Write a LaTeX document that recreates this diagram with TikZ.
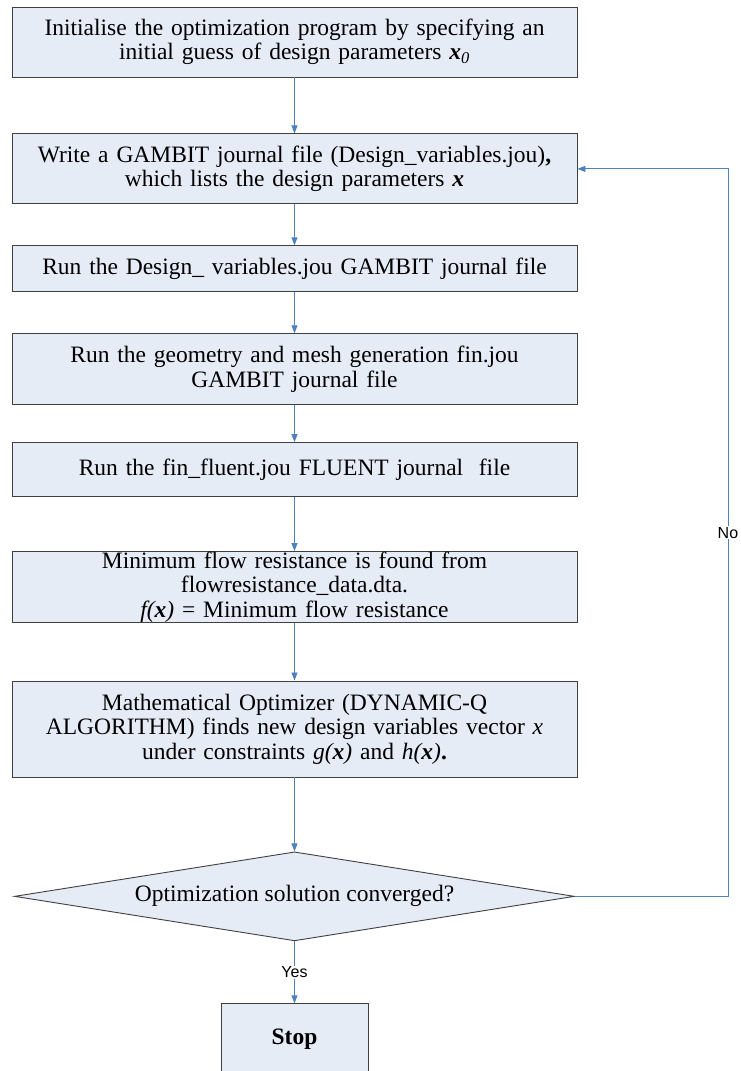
\documentclass[tikz,border=0pt]{standalone}
\usepackage{fontspec}
\setmainfont{Liberation Serif}
\setsansfont{Liberation Sans}
\usetikzlibrary{arrows.meta,positioning,shapes.geometric}
\definecolor{boxfill}{RGB}{230,236,246}
\definecolor{boxline}{RGB}{64,64,64}
\definecolor{flowblue}{RGB}{79,129,189}

\begin{document}
\begin{tikzpicture}[
    x=1pt, y=-1pt,
    stepbox/.style={draw=boxline, fill=boxfill, line width=0.9pt, minimum width=565pt,
        text width=555pt, inner xsep=5pt, inner ysep=0pt, align=center,
        font=\fontsize{23.5}{24.5}\selectfont},
    decision/.style={diamond, draw=boxline, fill=boxfill, line width=0.9pt, aspect=6.3,
        minimum width=560pt, minimum height=89pt, inner sep=0pt,
        font=\fontsize{23.5}{24.5}\selectfont},
    flowlabel/.style={fill=white, inner sep=1pt, font=\sffamily\fontsize{16}{18}\selectfont},
    arrow/.style={-{Triangle[length=8pt,width=6pt]}, draw=flowblue, line width=0.9pt}
]
\useasboundingbox (0,0) rectangle (740,1071);
\clip (0,0) rectangle (740,1071);
\fill[white] (0,0) rectangle (740,1071);

\node[stepbox, minimum height=70pt] (init) at (294.5,42)
    {Initialise the optimization program by specifying an\\
     initial guess of design parameters \textbf{\textit{x}}\textsubscript{\textit{0}}};
\node[stepbox, minimum height=70pt, below=56pt of init] (journal)
    {Write a GAMBIT journal file (Design\_variables.jou)\textbf{,}\\
     which lists the design parameters \textbf{\textit{x}}};
\node[stepbox, minimum height=46pt, below=41pt of journal] (rundesign)
    {Run the Design\_ variables.jou GAMBIT journal file};
\node[stepbox, minimum height=71pt, below=41pt of rundesign] (runmesh)
    {Run the geometry and mesh generation fin.jou\\
     GAMBIT journal file};
\node[stepbox, minimum height=54pt, below=37pt of runmesh] (runfluent)
    {Run the fin\_fluent.jou FLUENT journal\ \ file};
\node[stepbox, minimum height=70pt, below=54pt of runfluent] (minres)
    {Minimum flow resistance is found from\\
     flowresistance\_data.dta.\\
     \textit{f(\textbf{x})} = Minimum flow resistance};
\node[stepbox, minimum height=96pt, below=58pt of minres] (optim)
    {Mathematical Optimizer (DYNAMIC-Q\\
     ALGORITHM) finds new design variables vector \textit{x}\\
     under constraints \textit{g(\textbf{x})} and \textit{h(\textbf{x})}\textbf{.}};
\node[decision, below=74pt of optim] (conv) {Optimization solution converged?};
\node[stepbox, text width=137pt, minimum width=147pt, minimum height=70pt,
    below=62pt of conv] (stop) {\textbf{Stop}};

\draw[arrow] (init) -- (journal);
\draw[arrow] (journal) -- (rundesign);
\draw[arrow] (rundesign) -- (runmesh);
\draw[arrow] (runmesh) -- (runfluent);
\draw[arrow] (runfluent) -- (minres);
\draw[arrow] (minres) -- (optim);
\draw[arrow] (optim) -- (conv);
\draw[arrow] (conv) -- node[flowlabel] {Yes} (stop);
\draw[arrow] (conv.east) -- ++(153,0) |- node[flowlabel, pos=0.25] {No} (journal.east);
\end{tikzpicture}
\end{document}
